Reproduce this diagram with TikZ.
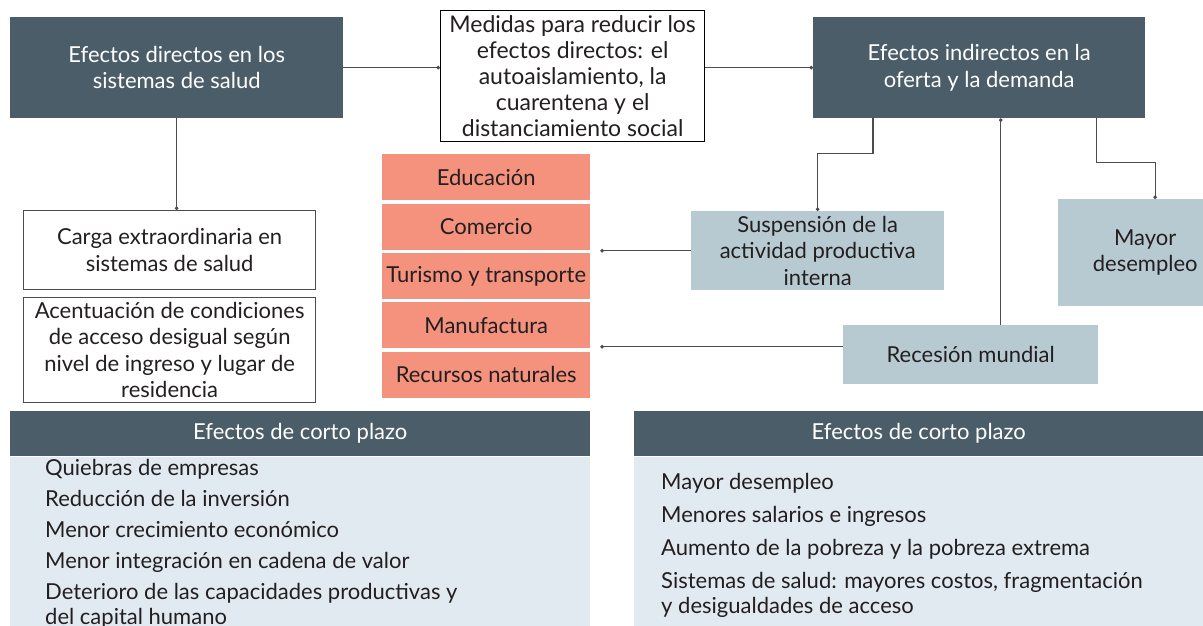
\documentclass[tikz,border=0pt]{standalone}
\usepackage{fontspec}
\setmainfont{Lato}
\usetikzlibrary{arrows.meta,positioning}
\definecolor{pizarra}{HTML}{4A5D69}
\definecolor{salmon}{HTML}{F4927D}
\definecolor{celeste}{HTML}{B8CAD1}
\definecolor{fondo}{HTML}{E1E9F1}
\definecolor{tinta}{HTML}{231F20}
\definecolor{linea}{HTML}{4D4D4D}
\begin{document}
\begin{tikzpicture}[x=1pt,y=-1pt,
	every node/.style={anchor=north west,inner sep=0pt,align=center,text=tinta,font=\fontsize{22}{26.5}\selectfont},
	oscuro/.style={fill=pizarra,text=white},
	blanco/.style={draw=linea,line width=1.3pt,fill=white},
	sector/.style={fill=salmon,minimum width=208,minimum height=46},
	gris/.style={fill=celeste},
	panel/.style={fill=fondo},
	conector/.style={draw=linea,line width=1.1pt,-{Circle[length=3.5pt]}}]
	\useasboundingbox (0,0) rectangle (1203,625);
	\node[oscuro,minimum width=333,minimum height=101] (directos) at (10,17) {Efectos directos en los\\sistemas de salud};
	\node[blanco,draw=black,minimum width=264,minimum height=131,font=\fontsize{23}{26}\selectfont] (medidas) at (440,10) {Medidas para reducir los\\efectos directos: el\\autoaislamiento, la\\cuarentena y el\\distanciamiento social};
	\node[oscuro,minimum width=332,minimum height=101] (indirectos) at (813,17) {Efectos indirectos en la\\oferta y la demanda};
	\node[blanco,minimum width=292,minimum height=79] (carga) at (23,210) {Carga extraordinaria en\\sistemas de salud};
	\node[blanco,minimum width=292,minimum height=105] (acentuacion) at (23,297) {Acentuación de condiciones\\de acceso desigual según\\nivel de ingreso y lugar de\\residencia};
	\node[sector] (educacion) at (382,154) {Educación};
	\node[sector,below=3pt of educacion] (comercio) {Comercio};
	\node[sector,below=3pt of comercio] (turismo) {Turismo y transporte};
	\node[sector,below=3pt of turismo] (manufactura) {Manufactura};
	\node[sector,below=3pt of manufactura] (recursos) {Recursos naturales};
	\node[gris,minimum width=253,minimum height=79] (suspension) at (691,211) {Suspensión de la\\actividad productiva\\interna};
	\node[gris,minimum width=174,minimum height=107] (desempleo) at (1058,199) {Mayor\\desempleo};
	\node[gris,minimum width=255,minimum height=59] (recesion) at (843,325) {Recesión mundial};
	\node[oscuro,minimum width=580,minimum height=45] (cortoA) at (10,411) {Efectos de corto plazo};
	\node[panel,minimum width=580,minimum height=190,below=0pt of cortoA] (cuerpoA) {};
	\node[oscuro,minimum width=569,minimum height=45] (cortoB) at (634,411) {Efectos de corto plazo};
	\node[panel,minimum width=569,minimum height=190,below=0pt of cortoB] (cuerpoB) {};
	\node[align=left,font=\fontsize{22}{25}\selectfont] (listaA) at (45,459) {Quiebras de empresas\\[6pt]Reducción de la inversión\\[6pt]Menor crecimiento económico\\[6pt]Menor integración en cadena de valor\\[6pt]Deterioro de las capacidades productivas y\\del capital humano};
	\node[align=left,font=\fontsize{22}{25}\selectfont] (listaB) at (661,473) {Mayor desempleo\\[8pt]Menores salarios e ingresos\\[8pt]Aumento de la pobreza y la pobreza extrema\\[8pt]Sistemas de salud: mayores costos, fragmentación\\y desigualdades de acceso};
	\draw[conector] (directos.east) -- (directos.east -| medidas.west);
	\draw[conector] (medidas.east |- indirectos.west) -- (indirectos.west);
	\draw[conector] (directos.south) -- (directos.south |- carga.north);
	\draw[conector] ([xshift=60pt]indirectos.south west) -- ++(0,35) -| (suspension.north);
	\draw[conector] ([xshift=-49pt]indirectos.south east) -- ++(0,44) -| ([xshift=10pt]desempleo.north);
	\draw[conector] ([xshift=30pt]recesion.north) -- ([xshift=30pt]recesion.north |- indirectos.south);
	\draw[conector,shorten >=10pt] (suspension.west) -- (suspension.west -| comercio.east);
	\draw[conector,shorten >=10pt] ([yshift=8pt]recesion.west) -- ([yshift=8pt]recesion.west -| manufactura.east);
\end{tikzpicture}
\end{document}
